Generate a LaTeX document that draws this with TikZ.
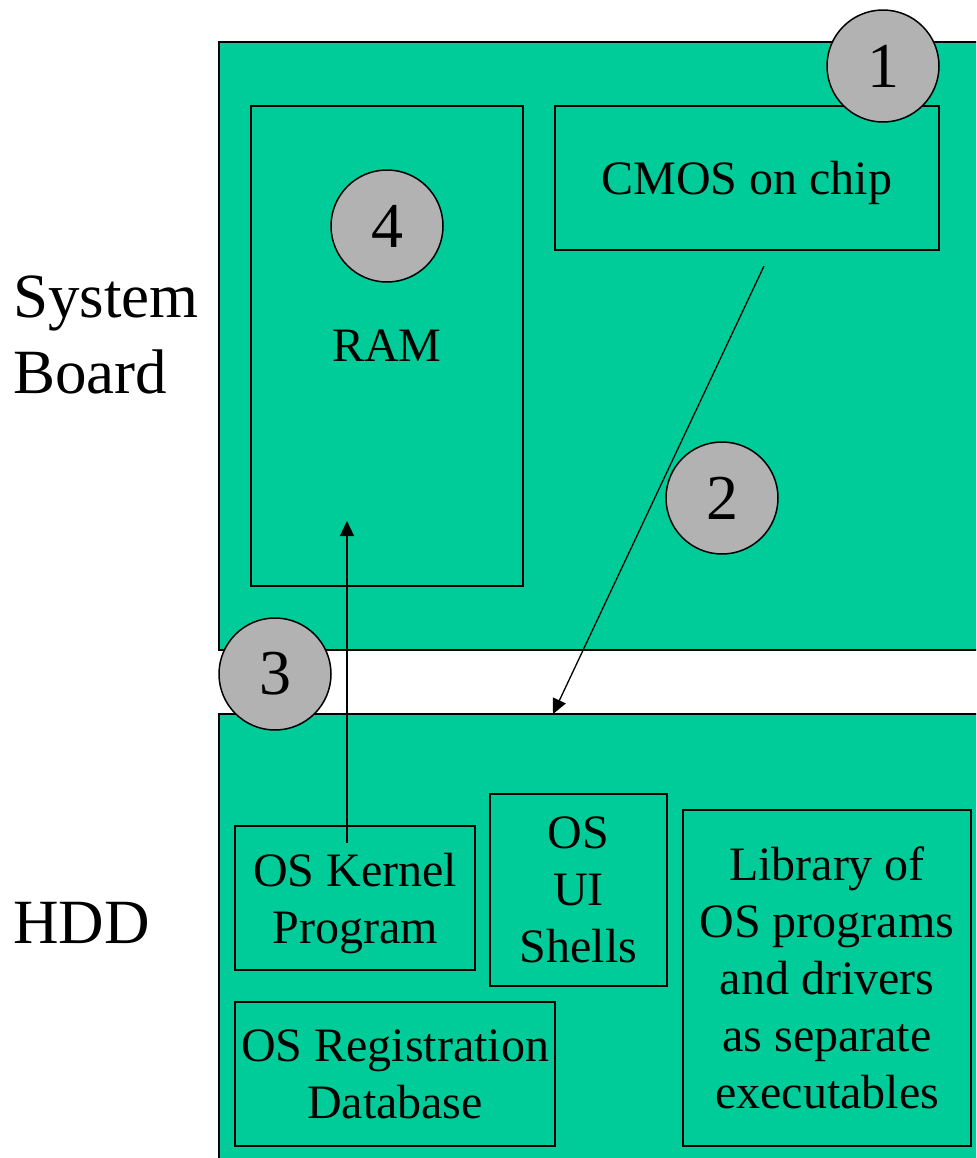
\documentclass[tikz,border=0pt]{standalone}
\usepackage{fontspec}
\setmainfont{Liberation Serif}
\usetikzlibrary{arrows.meta}
\definecolor{boardgreen}{RGB}{0,204,153}
\definecolor{markgray}{RGB}{178,178,178}
\begin{document}
\begin{tikzpicture}[x=0.5pt,y=-0.5pt,
  board/.style={draw=black,fill=boardgreen,line width=0.9pt,inner sep=0,outer sep=0},
  part/.style={draw=black,line width=0.9pt,inner sep=0,outer sep=0,align=center,text depth=0pt,font=\fontsize{24}{28.5}\selectfont},
  marker/.style={circle,draw=black,fill=markgray,line width=0.75pt,minimum size=56pt,inner sep=0,font=\fontsize{32}{38}\selectfont},
  sidelabel/.style={anchor=base west,align=left,font=\fontsize{31.5}{38}\selectfont,inner sep=0},
  flow/.style={line width=0.65pt,-{Triangle[length=7.5pt,width=7pt]}}]
\useasboundingbox (0,0) rectangle (976,1158);
\clip (0,0) rectangle (976,1158);
% boards
\node[board,minimum width=390.5pt,minimum height=304pt] (sys) at (609.5,346) {};
\node[board,minimum width=390.5pt,minimum height=243pt] (hdd) at (609.5,957) {};
% parts
\node[part,minimum width=136pt,minimum height=240pt] (ram) at (387,346) {RAM};
\node[part,minimum width=192pt,minimum height=72pt] (cmos) at (747,178) {CMOS on chip};
\node[part,minimum width=120pt,minimum height=72pt] (kernel) at (355,898) {OS Kernel\\Program};
\node[part,minimum width=88.5pt,minimum height=96pt] (shells) at (578.5,890) {OS\\UI\\Shells};
\node[part,minimum width=160pt,minimum height=72pt] (registry) at (395,1074) {OS Registration\\Database};
\node[part,minimum width=144pt,minimum height=168pt] (library) at (827,978) {Library of\\OS programs\\and drivers\\as separate\\executables};
% side labels
\node[sidelabel] (syslabel) at (13,393) {System\\Board};
\node[sidelabel] (hddlabel) at (13,943) {HDD};
% connectors
\coordinate (kout) at (347,843);
\coordinate (ramin) at (347,521);
\draw[flow] (kout) -- (ramin);
\coordinate (cmosout) at (764,266);
\coordinate (hddin) at (553,714);
\draw[flow] (cmosout) -- (hddin);
% step markers
\node[marker] (m1) at (883,66) {1};
\node[marker] (m2) at (722,498) {2};
\node[marker] (m3) at (275,674) {3};
\node[marker] (m4) at (387,226) {4};
\end{tikzpicture}
\end{document}
